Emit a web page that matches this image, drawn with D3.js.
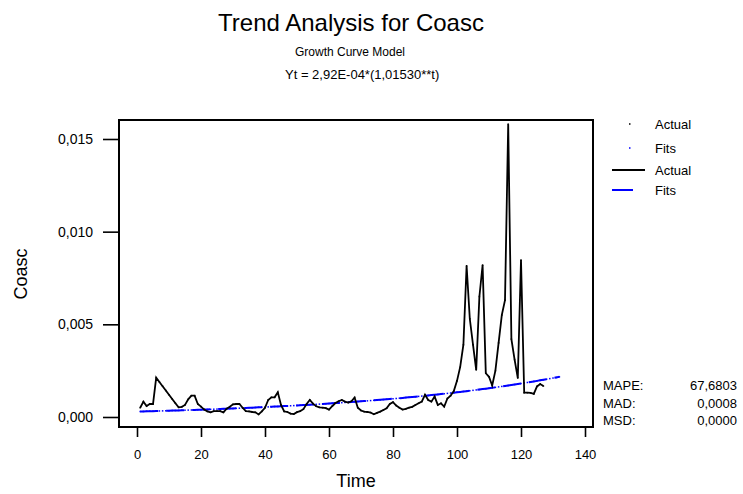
<!DOCTYPE html>
<html lang="en">
<head>
  <meta charset="UTF-8" />
  <title>Trend Analysis for Coasc</title>
  <script src="https://d3js.org/d3.v7.min.js"></script>
  <style>
    body {
      margin: 0;
      background: #fff;
      font-family: 'Liberation Sans', Arial, sans-serif;
    }
    .axis path, .axis line {
      stroke: #000;
      stroke-width: 1.6px;
    }
    .axis text {
      fill: #000;
    }
  </style>
</head>
<body>
  <svg id="chart"></svg>

  <script>
    // Time index of the observed series (1..127) and of the fitted trend (1..132)
    const timeActual = d3.range(1, 128);
    const timeFits = d3.range(1, 133);

    const actual = [
      0.00050, 0.00083, 0.00059, 0.00070, 0.00070, 0.00212, 0.00189, 0.00166, 0.00143, 0.00120,
      0.00097, 0.00074, 0.00052, 0.00055, 0.00065, 0.00095, 0.00115, 0.00115, 0.00070, 0.00056,
      0.00040, 0.00030, 0.00025, 0.00032, 0.00032, 0.00032, 0.00025, 0.00045, 0.00055, 0.00068,
      0.00070, 0.00070, 0.00050, 0.00032, 0.00030, 0.00027, 0.00025, 0.00014, 0.00030, 0.00050,
      0.00092, 0.00106, 0.00106, 0.00133, 0.00065, 0.00030, 0.00027, 0.00018, 0.00016, 0.00026,
      0.00032, 0.00042, 0.00070, 0.00092, 0.00072, 0.00058, 0.00052, 0.00050, 0.00048, 0.00040,
      0.00058, 0.00075, 0.00085, 0.00092, 0.00083, 0.00078, 0.00085, 0.00105, 0.00050, 0.00035,
      0.00029, 0.00027, 0.00024, 0.00015, 0.00022, 0.00029, 0.00038, 0.00047, 0.00070, 0.00080,
      0.00062, 0.00050, 0.00040, 0.00044, 0.00050, 0.00055, 0.00065, 0.00074, 0.00083, 0.00120,
      0.00092, 0.00083, 0.00110, 0.00065, 0.00074, 0.00056, 0.00100, 0.00115, 0.00140, 0.00195,
      0.00270, 0.00390, 0.00816, 0.00530, 0.00390, 0.00254, 0.00650, 0.00820, 0.00236, 0.00217,
      0.00170, 0.00250, 0.00400, 0.00550, 0.00630, 0.01580, 0.00420, 0.00310, 0.00210, 0.00847,
      0.00131, 0.00131, 0.00130, 0.00125, 0.00165, 0.00178, 0.00167
    ];

    // Fitted growth curve values (Minitab fits + forecasts)
    const fits = [
      2.965e-4, 3.010e-4, 3.056e-4, 3.103e-4, 3.150e-4, 3.199e-4, 3.248e-4, 3.297e-4, 3.348e-4, 3.399e-4,
      3.451e-4, 3.504e-4, 3.557e-4, 3.612e-4, 3.667e-4, 3.723e-4, 3.780e-4, 3.838e-4, 3.897e-4, 3.956e-4,
      4.017e-4, 4.078e-4, 4.141e-4, 4.204e-4, 4.268e-4, 4.334e-4, 4.400e-4, 4.467e-4, 4.536e-4, 4.605e-4,
      4.675e-4, 4.747e-4, 4.820e-4, 4.893e-4, 4.968e-4, 5.044e-4, 5.121e-4, 5.200e-4, 5.279e-4, 5.360e-4,
      5.442e-4, 5.525e-4, 5.610e-4, 5.696e-4, 5.783e-4, 5.871e-4, 5.961e-4, 6.052e-4, 6.145e-4, 6.239e-4,
      6.334e-4, 6.431e-4, 6.530e-4, 6.630e-4, 6.731e-4, 6.834e-4, 6.939e-4, 7.045e-4, 7.153e-4, 7.262e-4,
      7.373e-4, 7.486e-4, 7.600e-4, 7.717e-4, 7.835e-4, 7.955e-4, 8.076e-4, 8.200e-4, 8.326e-4, 8.453e-4,
      8.582e-4, 8.714e-4, 8.847e-4, 8.982e-4, 9.120e-4, 9.259e-4, 9.401e-4, 9.545e-4, 9.691e-4, 9.839e-4,
      9.989e-4, 1.0142e-3, 1.0297e-3, 1.0455e-3, 1.0615e-3, 1.0777e-3, 1.0942e-3, 1.1110e-3, 1.1280e-3, 1.1452e-3,
      1.1628e-3, 1.1805e-3, 1.1986e-3, 1.2169e-3, 1.2356e-3, 1.2545e-3, 1.2737e-3, 1.2931e-3, 1.3129e-3, 1.3330e-3,
      1.3534e-3, 1.3741e-3, 1.3952e-3, 1.4165e-3, 1.4382e-3, 1.4602e-3, 1.4825e-3, 1.5052e-3, 1.5282e-3, 1.5516e-3,
      1.5753e-3, 1.5994e-3, 1.6239e-3, 1.6488e-3, 1.6740e-3, 1.6996e-3, 1.7256e-3, 1.7520e-3, 1.7788e-3, 1.8060e-3,
      1.8337e-3, 1.8617e-3, 1.8902e-3, 1.9191e-3, 1.9485e-3, 1.9783e-3, 2.0086e-3, 2.0393e-3, 2.0705e-3, 2.1022e-3,
      2.1343e-3, 2.1670e-3
    ];

    // Tick values and accuracy measures
    const xTicks = [0, 20, 40, 60, 80, 100, 120, 140];
    const yTicks = [0, 0.005, 0.010, 0.015];
    const statNames = ["MAPE:", "MAD:", "MSD:"];
    const statValues = ["67,6803", "0,0008", "0,0000"];
    const legendNames = ["Actual", "Fits", "Actual", "Fits"];

    const W = 743, H = 494;
    const plot = { left: 119, right: 593, top: 120, bottom: 427 };

    // Comma decimal separator, as in the original output
    const locale = d3.formatLocale({ decimal: ",", thousands: ".", grouping: [3], currency: ["", ""] });
    const fmtY = locale.format(".3f");

    const svg = d3.select("#chart").attr("width", W).attr("height", H);

    const x = d3.scaleLinear().domain([-5.625, 142.5]).range([plot.left, plot.right]);
    const y = d3.scaleLinear().domain([-0.00054, 0.016025]).range([plot.bottom, plot.top]);

    // Titles
    svg.append("text").attr("x", 351).attr("y", 31).attr("text-anchor", "middle")
      .style("font-size", "24px").text("Trend Analysis for Coasc");
    svg.append("text").attr("x", 350).attr("y", 56).attr("text-anchor", "middle")
      .style("font-size", "12px").text("Growth Curve Model");
    svg.append("text").attr("x", 285).attr("y", 79)
      .style("font-size", "13px").text("Yt = 2,92E-04*(1,01530**t)");

    // Axes
    svg.append("g").attr("class", "axis")
      .attr("transform", `translate(0,${plot.bottom})`)
      .call(d3.axisBottom(x).tickValues(xTicks).tickSize(10).tickPadding(13).tickSizeOuter(0))
      .call(g => g.select(".domain").remove())
      .selectAll("text").style("font-size", "13px");

    svg.append("g").attr("class", "axis")
      .attr("transform", `translate(${plot.left},0)`)
      .call(d3.axisLeft(y).tickValues(yTicks).tickFormat(fmtY).tickSize(16).tickPadding(10).tickSizeOuter(0))
      .call(g => g.select(".domain").remove())
      .selectAll("text").style("font-size", "14px");

    // Frame around the plot
    svg.append("rect")
      .attr("x", plot.left).attr("y", plot.top)
      .attr("width", plot.right - plot.left).attr("height", plot.bottom - plot.top)
      .attr("fill", "none").attr("stroke", "#000").attr("stroke-width", 2);

    // Axis titles
    svg.append("text").attr("x", 356).attr("y", 487).attr("text-anchor", "middle")
      .style("font-size", "18px").text("Time");
    svg.append("text").attr("transform", "translate(27,274) rotate(-90)").attr("text-anchor", "middle")
      .style("font-size", "18px").text("Coasc");

    const actualData = timeActual.map((t, i) => ({ t, v: actual[i] }));
    const fitsData = timeFits.map((t, i) => ({ t, v: fits[i] }));
    const line = d3.line().x(d => x(d.t)).y(d => y(d.v));

    // Fitted trend: dashed blue line plus tiny point symbols
    svg.append("path").datum(fitsData)
      .attr("d", line).attr("fill", "none")
      .attr("stroke", "#0000ff").attr("stroke-width", 2)
      .attr("stroke-dasharray", "18,8");
    svg.append("g").selectAll("rect").data(fitsData).join("rect")
      .attr("x", d => x(d.t) - 0.75).attr("y", d => y(d.v) - 0.75)
      .attr("width", 1.5).attr("height", 1.5).attr("fill", "#0000ff");

    // Observed series: solid black line with point symbols
    svg.append("path").datum(actualData)
      .attr("d", line).attr("fill", "none")
      .attr("stroke", "#000").attr("stroke-width", 1.8)
      .attr("stroke-linejoin", "miter");
    svg.append("g").selectAll("rect").data(actualData).join("rect")
      .attr("x", d => x(d.t) - 0.75).attr("y", d => y(d.v) - 0.75)
      .attr("width", 1.5).attr("height", 1.5).attr("fill", "#000");

    // Legend
    const legendY = [124, 148, 170, 190];
    const legendColor = ["#000", "#0000ff", "#000", "#0000ff"];
    const legend = svg.append("g");
    legendNames.forEach((name, i) => {
      if (i < 2) {
        legend.append("rect").attr("x", 629).attr("y", legendY[i] - 0.75)
          .attr("width", 1.5).attr("height", 1.5).attr("fill", legendColor[i]);
      } else {
        legend.append("line")
          .attr("x1", 612).attr("x2", i === 2 ? 645 : 633)
          .attr("y1", legendY[i]).attr("y2", legendY[i])
          .attr("stroke", legendColor[i]).attr("stroke-width", 2);
      }
      legend.append("text").attr("x", 655).attr("y", legendY[i]).attr("dy", "0.35em")
        .style("font-size", "13px").text(name);
    });

    // Accuracy measures
    const statY = [385, 403, 420];
    statNames.forEach((name, i) => {
      svg.append("text").attr("x", 603).attr("y", statY[i]).attr("dy", "0.35em")
        .style("font-size", "13px").text(name);
      svg.append("text").attr("x", 737).attr("y", statY[i]).attr("dy", "0.35em")
        .attr("text-anchor", "end").style("font-size", "13px").text(statValues[i]);
    });
  </script>
</body>
</html>
